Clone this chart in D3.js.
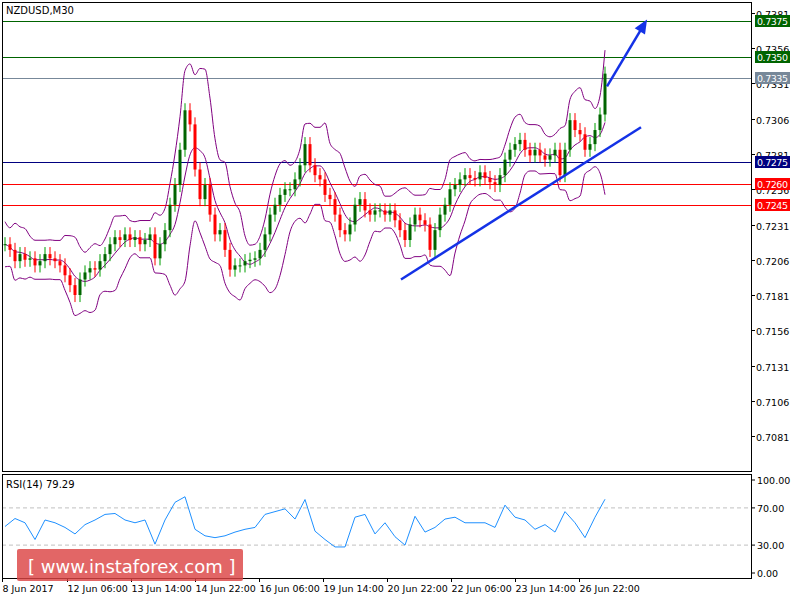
<!DOCTYPE html>
<html><head><meta charset="utf-8">
<script src="https://cdn.jsdelivr.net/npm/d3@7"></script>
<style>body{margin:0;background:#fff}text{font-family:"DejaVu Sans",sans-serif}</style>
</head><body>
<svg width="800" height="600"></svg>
<script>
// closes sampled every 5px along the chart (NZDUSD M30)
const closes = [0.7217,0.7213,0.7205,0.7210,0.7206,0.7207,0.7202,0.7205,0.7210,0.7207,
  0.7205,0.7202,0.7195,0.7188,0.7181,0.7192,0.7197,0.7200,0.7199,0.7205,
  0.7210,0.7217,0.7222,0.7220,0.7224,0.7220,0.7222,0.7217,0.7220,0.7224,
  0.7207,0.7217,0.7227,0.7245,0.7259,0.7284,0.7312,0.7302,0.7270,0.7249,
  0.7259,0.7238,0.7224,0.7227,0.7213,0.7199,0.7202,0.7202,0.7205,0.7206,
  0.7207,0.7213,0.7224,0.7238,0.7245,0.7252,0.7256,0.7256,0.7263,0.7273,
  0.7288,0.7273,0.7266,0.7263,0.7252,0.7249,0.7238,0.7227,0.7224,0.7231,
  0.7245,0.7249,0.7241,0.7238,0.7241,0.7241,0.7238,0.7241,0.7234,0.7227,
  0.7220,0.7231,0.7238,0.7234,0.7231,0.7213,0.7227,0.7238,0.7245,0.7256,
  0.7259,0.7263,0.7266,0.7264,0.7263,0.7268,0.7264,0.7261,0.7259,0.7266,
  0.7277,0.7284,0.7288,0.7291,0.7284,0.7280,0.7284,0.7280,0.7277,0.7280,
  0.7284,0.7266,0.7284,0.7305,0.7298,0.7295,0.7284,0.7288,0.7298,0.7309,0.7338];
const rsi = [50,58.6,54,36,57,54,49,42,52,57,63,64,57,54,57,31,57,76,82,47,
  40,38,40,44,47,49,63,66,69,58,79,45,36,28,28,60,63,42,54,39,
  30,61,44,49,58,60,54,54,54,49,73,60,57,47,52,44,66,54,38,60,79.29];
const priceTicks = [0.7381,0.7356,0.7331,0.7306,0.7281,0.7256,0.7231,0.7206,0.7181,0.7156,0.7131,0.7106,0.7081];
const levels = [0.7375,0.7350,0.7335,0.7275,0.7260,0.7245];
const levelColors = ["#006400","#006400","#778899","#000080","#ff0000","#ff0000"];
const timeLabels = ["8 Jun 2017","12 Jun 06:00","13 Jun 14:00","14 Jun 22:00","16 Jun 06:00","19 Jun 14:00","20 Jun 22:00","22 Jun 06:00","23 Jun 14:00","26 Jun 22:00"];
const timeIdx = [-0.6,12.4,25.2,38,50.8,63.6,76.4,89.2,102,114.8];
const trend = [[79.2,0.7192],[127.2,0.7300]];
const arrow = [[120.4,0.7329],[128,0.7374]];

const svg = d3.select("svg");
const L = 2, R = 751, T = 2, B = 471, RT = 474, RB = 578;
const x = d3.scaleLinear().domain([0, 120]).range([5, 605]);
const y = d3.scaleLinear().domain([0.7081, 0.7381]).range([436, 13]);
const yr = d3.scaleLinear().domain([0, 100]).range([573, 480]);

// bollinger bands (period 5 on sampled closes)
const per = 5;
const bb = closes.map((c, i) => {
  const w = closes.slice(Math.max(0, i - per + 1), i + 1);
  const m = d3.mean(w), s = d3.deviation(w) || 0.0004;
  return {i, m, u: m + 2 * s + 0.0008, l: m - 2 * s - 0.0008};
});

const main = svg.append("g");
main.append("defs").append("clipPath").attr("id","cp").append("rect")
  .attr("x",L).attr("y",T).attr("width",R-L).attr("height",B-T);
const plot = main.append("g").attr("clip-path","url(#cp)");

// levels
levels.forEach((v, k) => {
  plot.append("line").attr("x1", L).attr("x2", R).attr("y1", Math.round(y(v))+0.5).attr("y2", Math.round(y(v))+0.5)
    .attr("stroke", levelColors[k]).attr("stroke-width", 1);
});

["u","m","l"].forEach(key => {
  plot.append("path").datum(bb).attr("fill","none").attr("stroke","#800080").attr("stroke-width",1)
    .attr("d", d3.line().x(d => x(d.i)).y(d => y(d[key])).curve(d3.curveMonotoneX));
});

// candles
closes.forEach((c, i) => {
  const o = i ? closes[i - 1] : c;
  const hi = Math.max(o, c) + 0.0005, lo = Math.min(o, c) - 0.0005;
  const up = c >= o;
  plot.append("line").attr("x1", x(i)).attr("x2", x(i)).attr("y1", y(hi)).attr("y2", y(lo))
    .attr("stroke", up ? "#00a000" : "#ff0000");
  plot.append("rect").attr("x", x(i) - 1.5).attr("width", 3)
    .attr("y", y(Math.max(o, c))).attr("height", Math.max(1, Math.abs(y(o) - y(c))))
    .attr("fill", up ? "#006400" : "#ff0000");
});

// trend line and arrow
plot.append("line").attr("x1", x(trend[0][0])).attr("y1", y(trend[0][1]))
  .attr("x2", x(trend[1][0])).attr("y2", y(trend[1][1])).attr("stroke","#1432e6").attr("stroke-width",2.5);
const ax1 = x(arrow[0][0]), ay1 = y(arrow[0][1]), ax2 = x(arrow[1][0]), ay2 = y(arrow[1][1]);
plot.append("line").attr("x1", ax1).attr("y1", ay1).attr("x2", ax2).attr("y2", ay2).attr("stroke","#1432e6").attr("stroke-width",2.5);
const ang = Math.atan2(ay2 - ay1, ax2 - ax1);
const hp = [[ax2 + 4 * Math.cos(ang), ay2 + 4 * Math.sin(ang)],
  [ax2 - 10 * Math.cos(ang) + 6 * Math.sin(ang), ay2 - 10 * Math.sin(ang) - 6 * Math.cos(ang)],
  [ax2 - 10 * Math.cos(ang) - 6 * Math.sin(ang), ay2 - 10 * Math.sin(ang) + 6 * Math.cos(ang)]];
plot.append("polygon").attr("points", hp.map(p => p.join(",")).join(" ")).attr("fill","#1432e6");

main.append("rect").attr("x",L+0.5).attr("y",T+0.5).attr("width",R-L).attr("height",B-T)
  .attr("fill","none").attr("stroke","#000");
main.append("text").attr("x",6).attr("y",14).attr("font-size",10).text("NZDUSD,M30");

// price axis
priceTicks.forEach(v => {
  const yy = Math.round(y(v)) + 0.5;
  svg.append("line").attr("x1",R).attr("x2",R+4).attr("y1",yy).attr("y2",yy).attr("stroke","#000");
  svg.append("text").attr("x",756).attr("y",yy+4).attr("font-size",9.5).text(v.toFixed(4));
});
levels.forEach((v, k) => {
  const yy = Math.round(y(v));
  svg.append("rect").attr("x",755).attr("y",yy-6).attr("width",35).attr("height",12).attr("fill",levelColors[k]);
  svg.append("text").attr("x",757).attr("y",yy+4).attr("font-size",9.5).attr("textLength",31)
    .attr("fill","#fff").text(v.toFixed(4));
});

// RSI panel
const rg = svg.append("g");
[70,30].forEach(v => rg.append("line").attr("x1",L).attr("x2",R).attr("y1",yr(v)).attr("y2",yr(v))
  .attr("stroke","#c0c0c0").attr("stroke-dasharray","4,3"));
rg.append("path").datum(rsi).attr("fill","none").attr("stroke","#1e90ff").attr("stroke-width",1)
  .attr("d", d3.line().x((d, i) => x(i * 2)).y(d => yr(d)));
rg.append("rect").attr("x",L+0.5).attr("y",RT+0.5).attr("width",R-L).attr("height",RB-RT)
  .attr("fill","none").attr("stroke","#000");
rg.append("text").attr("x",6).attr("y",488).attr("font-size",10).text("RSI(14) 79.29");
[100,70,30,0].forEach(v => {
  svg.append("line").attr("x1",R).attr("x2",R+4).attr("y1",yr(v)).attr("y2",yr(v)).attr("stroke","#000");
  svg.append("text").attr("x",757).attr("y",yr(v)+4).attr("font-size",9.5).text(v.toFixed(2));
});

// time axis
timeLabels.forEach((t, k) => {
  const xx = Math.round(x(timeIdx[k])) + 0.5;
  svg.append("line").attr("x1",xx).attr("x2",xx).attr("y1",RB).attr("y2",RB+4).attr("stroke","#000");
  svg.append("text").attr("x",xx).attr("y",592).attr("font-size",9.5).text(t);
});

// watermark
svg.append("rect").attr("x",17).attr("y",549).attr("width",226).attr("height",32).attr("rx",2)
  .attr("fill","#dc4444").attr("opacity",0.82);
svg.append("text").attr("x",28).attr("y",573).attr("font-size",18).attr("fill","#fff")
  .attr("font-family","Roboto, sans-serif").text("[  www.instaforex.com ]");
</script>
</body></html>
